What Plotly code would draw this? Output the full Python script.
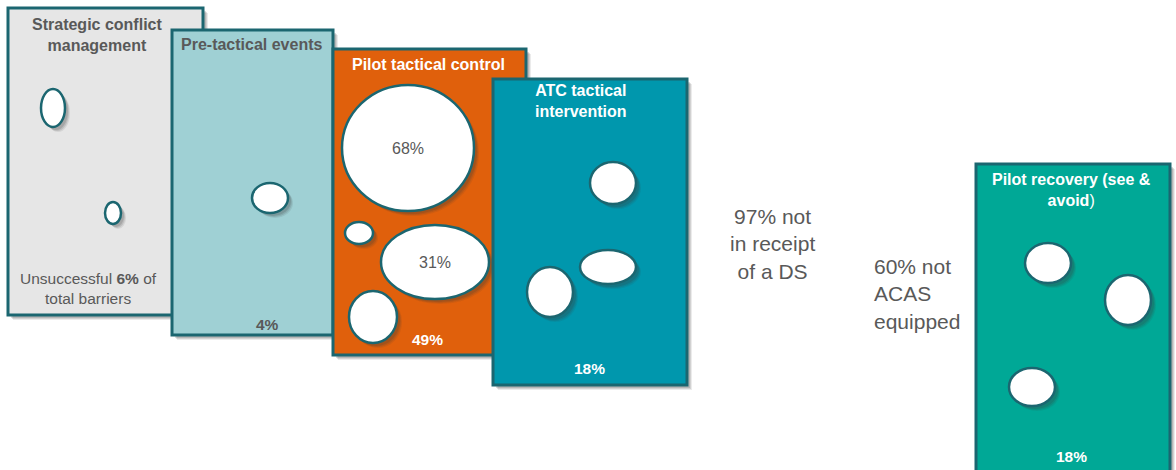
import plotly.graph_objects as go

# ---- data -------------------------------------------------------------
STAGE_TITLES = [
    "Strategic conflict<br>management",
    "Pre-tactical events",
    "Pilot tactical control",
    "ATC tactical<br>intervention",
    "Pilot recovery (see &<br>avoid<span style='font-weight:normal'>)</span>",
]
STAGE_SHARE = [6, 4, 49, 18, 18]          # % of unsuccessful barriers
PILOT_CONTROL_SPLIT = [68, 31]            # % inside pilot tactical control
NOT_IN_RECEIPT_DS = 97                    # % not in receipt of a DS
NOT_ACAS_EQUIPPED = 60                    # % not ACAS equipped

# ---- layout / styling -------------------------------------------------
W, H = 1176, 470
EDGE = "#1B6670"
GREY_TXT = "#595959"

PANEL_BOX = [(8, 8, 203, 315), (172, 30, 333, 335), (333, 49, 526, 355),
             (493, 79, 687, 385), (976, 164, 1170, 490)]
PANEL_FILL = ["#E6E6E6", "#9FD0D4", "#E0600C", "#0097AD", "#00A896"]
TITLE_POS = [(97, 35), (252, 44), (428, 64), (581, 101), (1071, 190)]
TITLE_COL = [GREY_TXT, GREY_TXT, "white", "white", "white"]
SHARE_POS = [(88, 288), (267, 324), (427, 339), (589, 368), (1071, 456)]
SHARE_COL = [GREY_TXT, GREY_TXT, "white", "white", "white"]

# bubbles per panel: (cx, cy, rx, ry)
BUBBLES = [
    [(53, 108, 12, 19), (113, 213, 8, 11)],
    [(270, 198, 18, 15)],
    [(408, 148, 66, 63), (359, 233, 14, 11), (435, 262, 54, 37), (373, 317, 24, 26)],
    [(613, 183, 23, 21), (608, 267, 28, 17), (550, 292, 23, 25)],
    [(1048, 263, 23, 20), (1128, 300, 23, 25), (1032, 387, 23, 19)],
]
SPLIT_BUBBLE = [0, 2]   # which pilot-control bubbles carry the split labels

FONT = "Liberation Sans, Arial, sans-serif"

shapes = []
annotations = []


def shadow(kind, x0, y0, x1, y1):
    for d, a in ((5, 0.10), (4, 0.14), (3, 0.18)):
        shapes.append(dict(type=kind, xref="x", yref="y",
                           x0=x0 + d, y0=y0 + d, x1=x1 + d, y1=y1 + d,
                           fillcolor=f"rgba(60,60,60,{a})", line=dict(width=0),
                           layer="above"))


for i, (x0, y0, x1, y1) in enumerate(PANEL_BOX):
    shadow("rect", x0, y0, x1, y1)
    shapes.append(dict(type="rect", xref="x", yref="y", x0=x0, y0=y0, x1=x1, y1=y1,
                       fillcolor=PANEL_FILL[i], line=dict(color=EDGE, width=3),
                       layer="above"))
    for cx, cy, rx, ry in BUBBLES[i]:
        shadow("circle", cx - rx, cy - ry, cx + rx, cy + ry)
        shapes.append(dict(type="circle", xref="x", yref="y",
                           x0=cx - rx, y0=cy - ry, x1=cx + rx, y1=cy + ry,
                           fillcolor="white", line=dict(color=EDGE, width=2.5),
                           layer="above"))

    tx, ty = TITLE_POS[i]
    annotations.append(dict(x=tx, y=ty, xref="x", yref="y", showarrow=False,
                            text=f"<b>{STAGE_TITLES[i]}</b>",
                            font=dict(family=FONT, size=16, color=TITLE_COL[i]),
                            align="center"))

    sx, sy = SHARE_POS[i]
    if i == 0:
        share_text = f"Unsuccessful <b>{STAGE_SHARE[i]}%</b> of<br>total barriers"
    else:
        share_text = f"<b>{STAGE_SHARE[i]}%</b>"
    annotations.append(dict(x=sx, y=sy, xref="x", yref="y", showarrow=False,
                            text=share_text, align="center",
                            font=dict(family=FONT, size=15.5, color=SHARE_COL[i])))

# split labels inside pilot tactical control bubbles
for k, b in enumerate(SPLIT_BUBBLE):
    cx, cy, rx, ry = BUBBLES[2][b]
    annotations.append(dict(x=cx, y=cy, xref="x", yref="y", showarrow=False,
                            text=f"{PILOT_CONTROL_SPLIT[k]}%",
                            font=dict(family=FONT, size=16, color=GREY_TXT)))

# free-standing notes
annotations.append(dict(x=772, y=244, xref="x", yref="y", showarrow=False,
                        text=f"{NOT_IN_RECEIPT_DS}% not<br>in receipt<br>of a DS",
                        align="center",
                        font=dict(family=FONT, size=21, color=GREY_TXT)))
annotations.append(dict(x=872, y=294, xref="x", yref="y", showarrow=False,
                        xanchor="left",
                        text=f"{NOT_ACAS_EQUIPPED}% not<br>ACAS<br>equipped",
                        align="left",
                        font=dict(family=FONT, size=21, color=GREY_TXT)))

fig = go.Figure()
fig.update_layout(
    width=W, height=H, autosize=False,
    margin=dict(l=0, r=0, t=0, b=0),
    paper_bgcolor="white", plot_bgcolor="white",
    xaxis=dict(range=[0, W], visible=False, fixedrange=True),
    yaxis=dict(range=[H, 0], visible=False, fixedrange=True),
    shapes=shapes, annotations=annotations, showlegend=False,
)
fig.write_html("out.html", config={"displayModeBar": False})
